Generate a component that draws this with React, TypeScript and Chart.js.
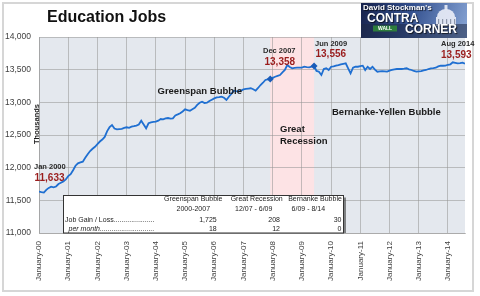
import { useEffect, useRef } from "react";
import { Chart, registerables } from "chart.js";

Chart.register(...registerables);

// Education jobs, thousands, monthly Jan 2000 .. Aug 2014
const education: number[] = [
  // 2000
  11633, 11625, 11618, 11660, 11690, 11709, 11700, 11712, 11750, 11770, 11790, 11820,
  // 2001
  11870, 11900, 11960, 12030, 12067, 12080, 12091, 12150, 12205, 12255, 12290, 12320,
  // 2002
  12360, 12400, 12430, 12470, 12560, 12620, 12653, 12600, 12585, 12590, 12595, 12610,
  // 2003
  12618, 12610, 12627, 12635, 12645, 12660, 12719, 12660, 12602, 12680, 12694, 12700,
  // 2004
  12704, 12720, 12745, 12740, 12755, 12760, 12750, 12755, 12800, 12815, 12832, 12860,
  // 2005
  12893, 12880, 12872, 12895, 12915, 12960, 12994, 13010, 12990, 12995, 13020, 13040,
  // 2006
  13060, 13075, 13080, 13086, 13070, 13036, 13086, 13130, 13178, 13170, 13163, 13180,
  // 2007
  13199, 13205, 13210, 13215, 13200, 13178, 13220, 13265, 13300, 13342, 13350, 13358,
  // 2008
  13375, 13392, 13405, 13418, 13460, 13495, 13571, 13540, 13521, 13528, 13530, 13532,
  // 2009
  13530, 13545, 13540, 13536, 13545, 13556, 13480, 13469, 13418, 13510, 13521, 13495,
  // 2010
  13545, 13550, 13561, 13570, 13582, 13590, 13597, 13521, 13444, 13530, 13545, 13545,
  // 2011
  13555, 13561, 13495, 13545, 13510, 13545, 13500, 13469, 13475, 13479, 13475, 13469,
  // 2012
  13485, 13495, 13505, 13510, 13512, 13510, 13515, 13521, 13505, 13495, 13480, 13469,
  // 2013
  13475, 13479, 13490, 13495, 13510, 13521, 13525, 13530, 13550, 13561, 13560, 13561,
  // 2014
  13575, 13582, 13613, 13605, 13597, 13600, 13607, 13593,
];

const tickLabels: string[] = [
  "January-00", "January-01", "January-02", "January-03", "January-04",
  "January-05", "January-06", "January-07", "January-08", "January-09",
  "January-10", "January-11", "January-12", "January-13", "January-14",
];

// month indexes (0 = Jan 2000)
const recessionSpan: number[] = [95, 113];
const markerMonths: number[] = [95, 113];
const calloutMonths: number[] = [0, 95, 113, 175];
const calloutDates: string[] = ["Jan 2000", "Dec 2007", "Jun 2009", "Aug 2014"];

const tablePeriods: string[] = ["Greenspan Bubble", "Great Recession", "Bernanke Bubble"];
const tableRanges: string[] = ["2000-2007", "12/07 - 6/09", "6/09 - 8/14"];
const tableGain: number[] = [1725, 208, 30];
const tablePerMonth: number[] = [18, 12, 0];

const FONT = "'Liberation Sans', Arial, sans-serif";
const fmt = (v: number) => v.toLocaleString("en-US");

// where each callout sits: [date x, date y, value x, value y]
const calloutPlaces: number[][] = [
  [34, 167, 34.5, 178.5],
  [263, 51, 264.5, 62.5],
  [315, 43.5, 315.5, 54.5],
  [441, 44, 441, 55],
];

function drawLogo(ctx: CanvasRenderingContext2D) {
  const lx = 361, ly = 3, lw = 106, lh = 35;
  ctx.save();
  const g = ctx.createLinearGradient(lx, ly, lx + lw, ly + lh);
  g.addColorStop(0, "#16214a");
  g.addColorStop(0.45, "#34518f");
  g.addColorStop(1, "#89a6d6");
  ctx.fillStyle = g;
  ctx.fillRect(lx, ly, lw, lh);
  // dome of the capitol
  ctx.fillStyle = "rgba(232,236,246,0.92)";
  ctx.beginPath();
  ctx.ellipse(446, 17, 9, 8, 0, Math.PI, 0);
  ctx.fill();
  ctx.fillRect(436, 17, 20, 9);
  ctx.fillRect(444.5, 5, 3, 5);
  ctx.fillStyle = "rgba(120,130,150,0.8)";
  for (let i = 0; i < 5; i++) ctx.fillRect(438 + i * 4, 19, 1.2, 6);
  // darker lower band
  ctx.fillStyle = "rgba(30,40,70,0.55)";
  ctx.fillRect(lx, 24, lw, lh - 21);
  // texts
  ctx.textBaseline = "middle";
  ctx.textAlign = "left";
  ctx.fillStyle = "#ffffff";
  ctx.shadowColor = "rgba(0,0,0,0.7)";
  ctx.shadowBlur = 1;
  ctx.shadowOffsetX = 1;
  ctx.shadowOffsetY = 1;
  ctx.font = `bold 8px ${FONT}`;
  ctx.fillText("David Stockman's", 363, 8);
  ctx.font = `bold 12px ${FONT}`;
  ctx.fillText("CONTRA", 367, 18.5);
  ctx.fillText("CORNER", 405, 30);
  ctx.shadowColor = "transparent";
  ctx.fillStyle = "#2e7d3c";
  ctx.fillRect(373, 25.5, 24, 6);
  ctx.fillStyle = "#ffffff";
  ctx.font = `bold 5px ${FONT}`;
  ctx.fillText("WALL", 378, 28.7);
  ctx.restore();
}

const decor = {
  id: "decor",
  beforeDraw(chart: any) {
    const { ctx, chartArea: a, scales } = chart;
    const x = scales.x;
    ctx.save();
    ctx.fillStyle = "#ffffff";
    ctx.fillRect(0, 0, chart.width, chart.height);
    ctx.strokeStyle = "#d6d6d6";
    ctx.lineWidth = 2;
    ctx.strokeRect(3, 3, 470, 288);
    ctx.fillStyle = "#e4e8ee";
    ctx.fillRect(a.left, a.top, a.right - a.left, a.bottom - a.top);
    const x0 = x.getPixelForValue(recessionSpan[0]);
    const x1 = x.getPixelForValue(recessionSpan[1]);
    ctx.fillStyle = "#fde3e5";
    ctx.fillRect(x0, a.top, x1 - x0, a.bottom - a.top);
    ctx.restore();
  },
  afterDraw(chart: any) {
    const { ctx } = chart;
    ctx.save();
    drawLogo(ctx);

    ctx.textBaseline = "middle";
    ctx.textAlign = "left";
    ctx.fillStyle = "#111111";
    ctx.font = `bold 16px ${FONT}`;
    ctx.fillText("Education Jobs", 47, 17.5);

    // axis title
    ctx.save();
    ctx.translate(36.5, 124);
    ctx.rotate(-Math.PI / 2);
    ctx.textAlign = "center";
    ctx.font = `bold 7.5px ${FONT}`;
    ctx.fillStyle = "#1a1a1a";
    ctx.fillText("Thousands", 0, 0);
    ctx.restore();

    // callouts
    calloutMonths.forEach((m, i) => {
      const [dx, dy, vx, vy] = calloutPlaces[i];
      ctx.font = `bold 7.5px ${FONT}`;
      ctx.fillStyle = "#2a2a2a";
      ctx.fillText(calloutDates[i], dx, dy);
      ctx.font = `bold 10px ${FONT}`;
      ctx.fillStyle = "#9a1c1c";
      ctx.fillText(fmt(education[m]), vx, vy);
    });

    // era labels
    ctx.font = `bold 9.5px ${FONT}`;
    ctx.fillStyle = "#1a1a1a";
    ctx.fillText("Greenspan Bubble", 157.5, 91);
    ctx.fillText("Bernanke-Yellen Bubble", 332, 112);
    ctx.fillText("Great", 280, 129);
    ctx.fillText("Recession", 280, 141);

    // summary table
    ctx.fillStyle = "rgba(60,60,60,0.6)";
    ctx.fillRect(344, 197.5, 2, 35.5);
    ctx.fillStyle = "#ffffff";
    ctx.fillRect(63.5, 195.5, 280, 37.5);
    ctx.strokeStyle = "#333333";
    ctx.lineWidth = 1;
    ctx.strokeRect(63.5, 195.5, 280, 37.5);

    ctx.fillStyle = "#222222";
    ctx.font = `7px ${FONT}`;
    ctx.textAlign = "center";
    const headX = [193.3, 256.7, 315];
    const rangeX = [193.3, 253.7, 308.3];
    tablePeriods.forEach((t, i) => ctx.fillText(t, headX[i], 199.5));
    tableRanges.forEach((t, i) => ctx.fillText(t, rangeX[i], 209.5));
    ctx.textAlign = "right";
    const numX = [216.7, 280, 341.5];
    tableGain.forEach((v, i) => ctx.fillText(fmt(v), numX[i], 220));
    tablePerMonth.forEach((v, i) => ctx.fillText(fmt(v), numX[i], 229.3));
    ctx.textAlign = "left";
    ctx.fillText("Job Gain / Loss" + ".".repeat(21), 65, 220);
    ctx.font = `italic 7px ${FONT}`;
    ctx.fillText("per month" + ".".repeat(28), 68.5, 229.3);
    ctx.restore();
  },
};

export default function App() {
  const ref = useRef<HTMLCanvasElement | null>(null);

  useEffect(() => {
    if (!ref.current) return;
    const chart = new Chart(ref.current, {
      type: "line",
      data: {
        datasets: [
          {
            data: markerMonths.map((m) => ({ x: m, y: education[m] })),
            showLine: false,
            pointStyle: "rectRot",
            pointRadius: 3.5,
            pointBackgroundColor: "#1b5cb8",
            pointBorderColor: "#1b5cb8",
            borderWidth: 0,
          },
          {
            data: education.map((v, i) => ({ x: i, y: v })),
            borderColor: "#1f6fd1",
            borderWidth: 1.8,
            pointRadius: 0,
            tension: 0,
            fill: false,
          },
        ],
      },
      options: {
        responsive: false,
        animation: false,
        devicePixelRatio: 1,
        layout: { padding: { left: 0, top: 37, right: 15, bottom: 0 } },
        plugins: { legend: { display: false }, tooltip: { enabled: false } },
        scales: {
          x: {
            type: "linear",
            min: 0,
            max: 175,
            afterFit: (s: any) => {
              s.height = 63;
            },
            grid: { color: "rgba(150,150,150,0.55)", drawTicks: false, lineWidth: 1 },
            border: { color: "rgba(150,150,150,0.55)" },
            ticks: {
              stepSize: 12,
              includeBounds: false,
              autoSkip: false,
              minRotation: 90,
              maxRotation: 90,
              padding: 8,
              color: "#404040",
              font: { family: FONT, size: 8 },
              callback: (v: any) => tickLabels[Math.round(Number(v) / 12)] ?? "",
            },
          },
          y: {
            min: 11000,
            max: 14000,
            afterFit: (s: any) => {
              s.width = 39;
            },
            grid: { color: "rgba(150,150,150,0.55)", drawTicks: false, lineWidth: 1 },
            border: { color: "rgba(150,150,150,0.55)" },
            ticks: {
              stepSize: 500,
              padding: 8,
              color: "#404040",
              font: { family: FONT, size: 8.5 },
              callback: (v: any) => fmt(Number(v)),
            },
          },
        },
      },
      plugins: [decor],
    });
    return () => chart.destroy();
  }, []);

  return (
    <div style={{ position: "fixed", left: 0, top: 0, width: 480, height: 296 }}>
      <canvas ref={ref} width={480} height={296} />
    </div>
  );
}
